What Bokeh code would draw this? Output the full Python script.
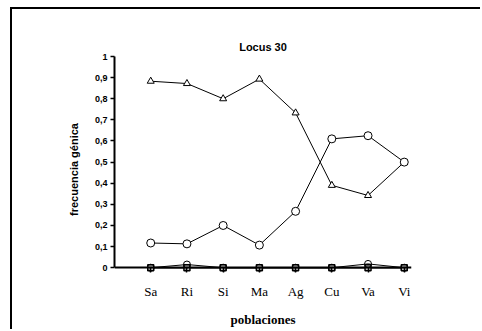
from bokeh.plotting import figure
from bokeh.models import FixedTicker, Range1d, LinearAxis
from bokeh.embed import file_html
from bokeh.resources import INLINE

categories = ["Sa", "Ri", "Si", "Ma", "Ag", "Cu", "Va", "Vi"]
allele_tri = [0.883, 0.872, 0.800, 0.893, 0.733, 0.390, 0.342, 0.500]
allele_circ = [0.117, 0.113, 0.200, 0.107, 0.267, 0.610, 0.625, 0.500]
allele_circ_small = [0.0, 0.015, 0.0, 0.0, 0.0, 0.0, 0.018, 0.0]
allele_sq = [0.0, 0.0, 0.0, 0.0, 0.0, 0.0, 0.0, 0.0]
y_ticks = [0, 0.1, 0.2, 0.3, 0.4, 0.5, 0.6, 0.7, 0.8, 0.9, 1]

x = list(range(1, len(categories) + 1))

p = figure(width=470, height=322, output_backend="svg", toolbar_location=None,
           x_range=Range1d(0, 8.2), y_range=Range1d(-0.07, 1.0),
           min_border_left=102, min_border_right=71, min_border_top=47,
           min_border_bottom=49)
p.styles = {"margin-left": "10px", "margin-top": "7px",
            "border-top": "2px solid #000", "border-left": "2px solid #000"}
p.grid.visible = False
p.outline_line_color = None
p.background_fill_color = "white"
p.border_fill_color = "white"

p.title.text = "Locus 30"
p.title.align = "center"
p.title.text_font = "Liberation Sans"
p.title.text_font_style = "bold"
p.title.text_font_size = "11px"
p.title.text_color = "black"
p.title.standoff = 7

# axis line and ticks at y = 0 (no labels of its own)
xa = p.xaxis[0]
xa.fixed_location = 0
xa.ticker = FixedTicker(ticks=x)
xa.major_label_text_font_size = "0px"
xa.major_label_text_color = None
xa.major_label_standoff = 0
xa.major_tick_in = 0
xa.major_tick_out = 5
xa.minor_tick_line_color = None
xa.axis_line_width = 2
xa.major_tick_line_width = 1.5

# category labels and axis title below the frame
xl = LinearAxis(ticker=FixedTicker(ticks=x),
                major_label_overrides={i: c for i, c in zip(x, categories)})
xl.axis_line_color = None
xl.major_tick_line_color = None
xl.minor_tick_line_color = None
xl.major_tick_out = 0
xl.major_tick_in = 0
xl.major_label_standoff = 1
xl.major_label_text_font = "Liberation Serif"
xl.major_label_text_font_size = "13px"
xl.major_label_text_color = "black"
xl.axis_label = "poblaciones"
xl.axis_label_text_font = "Liberation Serif"
xl.axis_label_text_font_style = "bold"
xl.axis_label_text_font_size = "13px"
xl.axis_label_text_color = "black"
xl.axis_label_standoff = 10
p.add_layout(xl, "below")

ya = p.yaxis[0]
ya.ticker = FixedTicker(ticks=y_ticks)
ya.major_label_overrides = {t: ("%g" % t).replace(".", ",") for t in y_ticks}
ya.bounds = (0, 1)
ya.major_tick_in = 0
ya.major_tick_out = 4
ya.minor_tick_line_color = None
ya.axis_line_width = 2
ya.major_tick_line_width = 1.5
ya.major_label_standoff = 3
ya.major_label_text_font = "Liberation Sans"
ya.major_label_text_font_style = "bold"
ya.major_label_text_font_size = "9px"
ya.major_label_text_color = "black"
ya.axis_label = "frecuencia génica"
ya.axis_label_text_font = "Liberation Sans"
ya.axis_label_text_font_style = "bold"
ya.axis_label_text_font_size = "11px"
ya.axis_label_text_color = "black"
ya.axis_label_standoff = 12

p.line(x, allele_sq, line_color="black", line_width=1.5)
p.scatter(x, allele_sq, marker="square", size=6, fill_color="#bbbbbb",
          line_color="black", line_width=1.5)
p.line(x, allele_circ_small, line_color="black", line_width=1)
p.scatter(x, allele_circ_small, marker="circle", size=7, fill_color="white",
          fill_alpha=0, line_color="black", line_width=1)
p.line(x, allele_tri, line_color="black", line_width=1)
p.scatter(x, allele_tri, marker="triangle", size=7, fill_color="white",
          line_color="black", line_width=1)
p.line(x, allele_circ, line_color="black", line_width=1)
p.scatter(x, allele_circ, marker="circle", size=8, fill_color="white",
          line_color="black", line_width=1)

open("out.html", "w").write(file_html(p, INLINE))
